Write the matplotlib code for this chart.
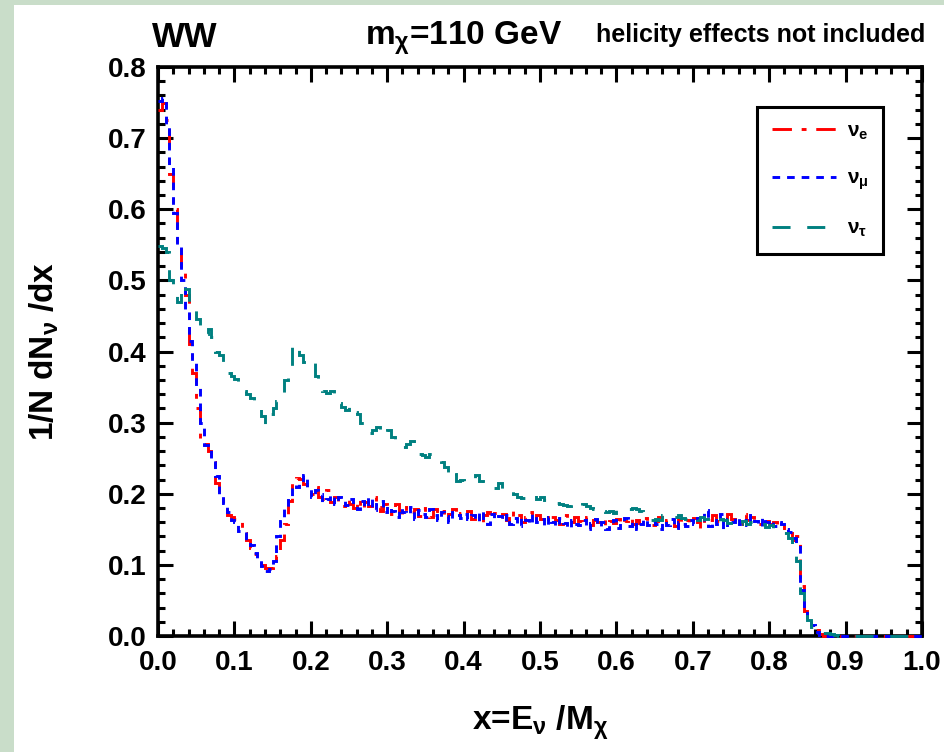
import numpy as np
import matplotlib
matplotlib.use('Agg')
import matplotlib.pyplot as plt
from matplotlib.patches import Rectangle
from matplotlib.ticker import MultipleLocator

# histogram bin width (x = E_nu / M_chi)
bin_width = 0.005

# nu_e spectrum, 200 bins of 0.005
nu_e = [
    0.740, 0.750, 0.725, 0.650, 0.600, 0.550, 0.510, 0.480, 0.410, 0.370,
    0.320, 0.275, 0.270, 0.260, 0.245, 0.215, 0.200, 0.190, 0.170, 0.168,
    0.165, 0.163, 0.145, 0.135, 0.124, 0.115, 0.108, 0.100, 0.095, 0.096,
    0.100, 0.112, 0.135, 0.158, 0.190, 0.218, 0.222, 0.221, 0.214, 0.205,
    0.200, 0.210, 0.196, 0.192, 0.205, 0.188, 0.195, 0.190, 0.183, 0.193,
    0.186, 0.180, 0.192, 0.178, 0.188, 0.183, 0.195, 0.181, 0.176, 0.186,
    0.181, 0.172, 0.185, 0.176, 0.170, 0.182, 0.174, 0.178, 0.169, 0.180,
    0.174, 0.167, 0.178, 0.171, 0.176, 0.165, 0.172, 0.179, 0.168, 0.173,
    0.170, 0.176, 0.165, 0.172, 0.158, 0.170, 0.175, 0.166, 0.173, 0.168,
    0.171, 0.163, 0.176, 0.166, 0.170, 0.160, 0.168, 0.174, 0.162, 0.170,
    0.165, 0.172, 0.160, 0.168, 0.163, 0.158, 0.170, 0.164, 0.160, 0.167,
    0.162, 0.158, 0.168, 0.156, 0.163, 0.160, 0.166, 0.155, 0.162, 0.159,
    0.164, 0.158, 0.161, 0.167, 0.157, 0.163, 0.159, 0.166, 0.160, 0.156,
    0.162, 0.167, 0.158, 0.163, 0.160, 0.155, 0.165, 0.159, 0.163, 0.157,
    0.166, 0.160, 0.152, 0.168, 0.163, 0.170, 0.161, 0.167, 0.158, 0.171,
    0.165, 0.160, 0.158, 0.172, 0.163, 0.167, 0.160, 0.158, 0.166, 0.162,
    0.158, 0.160, 0.153, 0.155, 0.148, 0.145, 0.135, 0.140, 0.070, 0.035,
    0.030, 0.012, 0.008, 0.003, 0.000, 0.000, 0.000, 0.000, 0.000, 0.000,
] + [0.0] * 20

# nu_mu spectrum
nu_mu = [
    0.752, 0.757, 0.715, 0.660, 0.595, 0.550, 0.500, 0.460, 0.415, 0.384,
    0.350, 0.300, 0.268, 0.265, 0.247, 0.225, 0.197, 0.187, 0.175, 0.163,
    0.160, 0.148, 0.146, 0.135, 0.128, 0.117, 0.110, 0.098, 0.092, 0.094,
    0.105, 0.140, 0.162, 0.180, 0.197, 0.212, 0.210, 0.215, 0.226, 0.208,
    0.196, 0.205, 0.200, 0.188, 0.193, 0.198, 0.185, 0.196, 0.190, 0.184,
    0.192, 0.186, 0.178, 0.190, 0.182, 0.195, 0.177, 0.185, 0.190, 0.174,
    0.183, 0.176, 0.168, 0.180, 0.175, 0.171, 0.182, 0.165, 0.177, 0.172,
    0.168, 0.178, 0.170, 0.163, 0.175, 0.169, 0.160, 0.174, 0.170, 0.166,
    0.172, 0.165, 0.170, 0.161, 0.176, 0.166, 0.158, 0.171, 0.164, 0.169,
    0.162, 0.170, 0.158, 0.166, 0.155, 0.168, 0.163, 0.157, 0.171, 0.160,
    0.164, 0.155, 0.168, 0.160, 0.154, 0.166, 0.159, 0.152, 0.163, 0.158,
    0.156, 0.163, 0.150, 0.159, 0.165, 0.154, 0.160, 0.151, 0.158, 0.163,
    0.152, 0.160, 0.166, 0.155, 0.162, 0.150, 0.158, 0.164, 0.156, 0.161,
    0.157, 0.150, 0.161, 0.156, 0.165, 0.152, 0.160, 0.158, 0.154, 0.163,
    0.158, 0.166, 0.160, 0.177, 0.155, 0.163, 0.158, 0.172, 0.150, 0.165,
    0.160, 0.168, 0.157, 0.163, 0.156, 0.170, 0.162, 0.155, 0.167, 0.160,
    0.163, 0.155, 0.160, 0.157, 0.150, 0.146, 0.138, 0.130, 0.065, 0.040,
    0.020, 0.015, 0.005, 0.002, 0.002, 0.000, 0.000, 0.000, 0.000, 0.000,
] + [0.0] * 20

# nu_tau spectrum
nu_tau = [
    0.548, 0.545, 0.540, 0.500, 0.480, 0.470, 0.495, 0.488, 0.470, 0.462,
    0.445, 0.430, 0.425, 0.432, 0.420, 0.400, 0.395, 0.385, 0.370, 0.366,
    0.362, 0.352, 0.345, 0.340, 0.335, 0.332, 0.330, 0.310, 0.298, 0.312,
    0.320, 0.330, 0.340, 0.360, 0.375, 0.410, 0.403, 0.395, 0.385, 0.390,
    0.385, 0.365, 0.348, 0.345, 0.342, 0.344, 0.340, 0.328, 0.322, 0.318,
    0.325, 0.315, 0.312, 0.300, 0.292, 0.286, 0.290, 0.294, 0.282, 0.285,
    0.290, 0.280, 0.272, 0.268, 0.266, 0.270, 0.274, 0.262, 0.256, 0.254,
    0.252, 0.256, 0.254, 0.250, 0.245, 0.238, 0.222, 0.228, 0.218, 0.220,
    0.218, 0.216, 0.222, 0.226, 0.218, 0.214, 0.212, 0.210, 0.208, 0.215,
    0.206, 0.204, 0.205, 0.200, 0.196, 0.194, 0.195, 0.200, 0.198, 0.192,
    0.196, 0.191, 0.187, 0.189, 0.187, 0.186, 0.184, 0.183, 0.186, 0.184,
    0.182, 0.185, 0.183, 0.180, 0.178, 0.182, 0.176, 0.174, 0.176, 0.173,
    0.177, 0.180, 0.180, 0.179, 0.180, 0.178, 0.176, 0.170, 0.168, 0.163,
    0.164, 0.163, 0.170, 0.167, 0.166, 0.167, 0.170, 0.166, 0.164, 0.162,
    0.166, 0.163, 0.168, 0.165, 0.167, 0.166, 0.161, 0.164, 0.163, 0.159,
    0.162, 0.163, 0.157, 0.161, 0.158, 0.160, 0.156, 0.155, 0.158, 0.153,
    0.156, 0.152, 0.150, 0.148, 0.145, 0.138, 0.130, 0.105, 0.060, 0.035,
    0.022, 0.012, 0.006, 0.004, 0.004, 0.004, 0.003, 0.002, 0.000, 0.000,
] + [0.0] * 20

series_labels = [r'$\nu_e$', r'$\nu_\mu$', r'$\nu_\tau$']
series_colors = ['#ff0000', '#0000ff', '#008080']
series_styles = [(0, (14, 7, 3.5, 7)), (0, (5.5, 5)), (0, (13, 12))]

plt.rcParams['font.family'] = ['Liberation Sans', 'DejaVu Sans']
plt.rcParams['font.weight'] = 'bold'
plt.rcParams['axes.labelweight'] = 'bold'
plt.rcParams['mathtext.fontset'] = 'custom'
plt.rcParams['mathtext.rm'] = 'Liberation Sans:bold'
plt.rcParams['mathtext.it'] = 'Liberation Sans:bold'
plt.rcParams['mathtext.bf'] = 'Liberation Sans:bold'
plt.rcParams['lines.scale_dashes'] = False

fig = plt.figure(figsize=(9.45, 7.52), dpi=100)
fig.patch.set_facecolor('white')
# light green frame strips (left and top)
fig.patches.append(Rectangle((0, 0), 14 / 945, 1, transform=fig.transFigure,
                             facecolor='#c9ddc9', edgecolor='none', zorder=0))
fig.patches.append(Rectangle((0, 1 - 5 / 752), 1, 5 / 752, transform=fig.transFigure,
                             facecolor='#c9ddc9', edgecolor='none', zorder=0))

ax = fig.add_axes([158 / 945, 1 - 636 / 752, 764 / 945, 569 / 752])

edges = np.arange(len(nu_e) + 1) * bin_width
for vals, lab, col, ls in zip([nu_e, nu_mu, nu_tau], series_labels, series_colors, series_styles):
    ax.stairs(vals, edges, baseline=None, color=col, linestyle=ls, linewidth=2.1,
              label=lab, zorder=3, clip_on=False)

ax.set_xlim(0, 1.0)
ax.set_ylim(0, 0.8)
ax.xaxis.set_major_locator(MultipleLocator(0.1))
ax.xaxis.set_minor_locator(MultipleLocator(0.02))
ax.yaxis.set_major_locator(MultipleLocator(0.1))
ax.yaxis.set_minor_locator(MultipleLocator(0.02))
ax.xaxis.set_major_formatter(lambda v, p: f'{v:.1f}')
ax.yaxis.set_major_formatter(lambda v, p: f'{v:.1f}')
ax.tick_params(which='both', direction='in', top=True, right=True, width=2.2)
ax.tick_params(which='major', length=11, labelsize=20)
ax.tick_params(which='minor', length=5)
ax.tick_params(axis='x', pad=10)
ax.tick_params(axis='y', pad=8)
for sp in ax.spines.values():
    sp.set_linewidth(2.6)

ax.set_xlabel(r'x=E$_{\nu}$ /M$_{\chi}$', fontsize=24, fontweight='bold', labelpad=20)
ax.set_ylabel(r'1/N dN$_{\nu}$ /dx', fontsize=24, fontweight='bold', labelpad=34)

leg = ax.legend(loc='upper right', bbox_to_anchor=(0.949, 0.930), borderaxespad=0,
                fontsize=15, handlelength=3.1, handletextpad=0.5, labelspacing=1.3,
                borderpad=0.7, fancybox=False, framealpha=1, edgecolor='black')
leg.get_frame().set_linewidth(2.2)

fig.text(152 / 945, 1 - 47 / 752, 'WW', fontsize=25, fontweight='bold', va='baseline')
fig.text(365 / 945, 1 - 45 / 752, r'm$_\chi$=110 GeV', fontsize=24, fontweight='bold',
         va='baseline')
fig.text(596 / 945, 1 - 42 / 752, 'helicity effects not included', fontsize=18,
         fontweight='bold', va='baseline')

fig.savefig('out.png', dpi=100, facecolor=fig.get_facecolor())
